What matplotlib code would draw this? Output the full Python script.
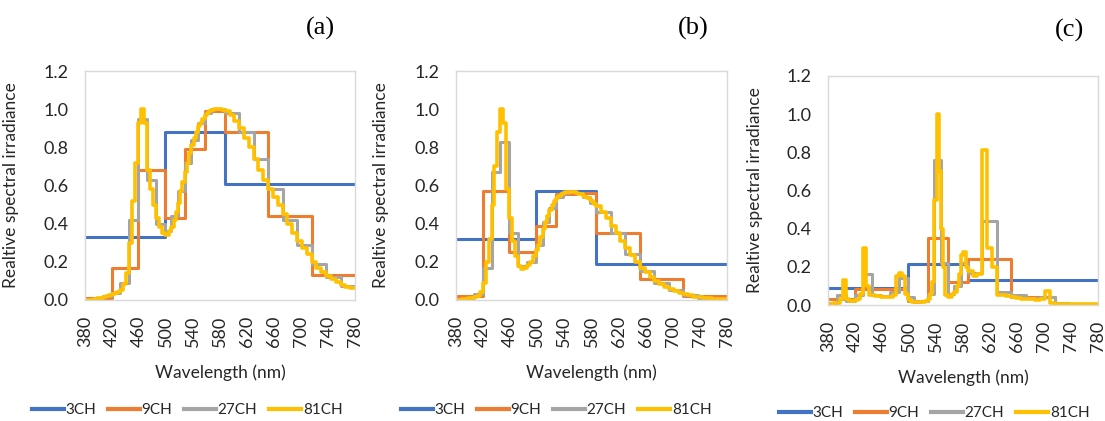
import numpy as np
import matplotlib
matplotlib.use("Agg")
import matplotlib.pyplot as plt

plt.rcParams['font.family'] = ['Lato', 'DejaVu Sans']

# channel bin edges (nm): 3 main channels, each split into 3 again and again
ch3_edges = [380, 498, 587, 780]

labels = ["3CH", "9CH", "27CH", "81CH"]
colors = ["#4472C4", "#ED7D31", "#A5A5A5", "#FFC000"]
panel_tags = ["(a)", "(b)", "(c)"]

# ---- panel (a)
a_3ch = [0.33, 0.88, 0.61]
a_9ch = [0.01, 0.17, 0.68, 0.43, 0.79, 0.99, 0.88, 0.44, 0.13]
a_27ch = [0.0, 0.01, 0.02, 0.035, 0.09, 0.42, 0.95, 0.63, 0.40,
          0.36, 0.44, 0.57, 0.72, 0.84, 0.93, 0.98, 1.0, 1.0,
          0.98, 0.88, 0.74, 0.58, 0.42, 0.29, 0.19, 0.12, 0.075]
a_81ch = [0.0, 0.0, 0.0, 0.005, 0.008, 0.012, 0.018, 0.022, 0.026,
          0.03, 0.035, 0.04, 0.05, 0.085, 0.14, 0.30, 0.52, 0.72,
          0.93, 1.0, 0.93, 0.68, 0.58, 0.50, 0.43, 0.38, 0.35,
          0.34, 0.34, 0.36, 0.38, 0.42, 0.46, 0.51, 0.57, 0.62,
          0.67, 0.72, 0.77, 0.81, 0.85, 0.88, 0.91, 0.93, 0.95,
          0.97, 0.98, 0.99, 0.995, 1.0, 1.0, 1.0, 1.0, 0.995,
          0.99, 0.97, 0.94, 0.90, 0.85, 0.80, 0.74, 0.68, 0.63,
          0.58, 0.54, 0.50, 0.45, 0.40, 0.35, 0.31, 0.27, 0.24,
          0.20, 0.17, 0.145, 0.125, 0.11, 0.095, 0.08, 0.07, 0.065]

# ---- panel (b)
b_3ch = [0.32, 0.57, 0.19]
b_9ch = [0.02, 0.57, 0.25, 0.39, 0.555, 0.56, 0.35, 0.11, 0.02]
b_27ch = [0.005, 0.01, 0.03, 0.17, 0.67, 0.83, 0.35, 0.18, 0.20,
          0.29, 0.41, 0.48, 0.54, 0.56, 0.57, 0.56, 0.54, 0.51,
          0.46, 0.35, 0.24, 0.15, 0.09, 0.055, 0.025, 0.012, 0.006]
b_81ch = [0.0, 0.002, 0.004, 0.006, 0.008, 0.01, 0.015, 0.022, 0.04,
          0.09, 0.20, 0.32, 0.50, 0.70, 0.88, 1.0, 0.93, 0.58,
          0.43, 0.31, 0.23, 0.18, 0.165, 0.17, 0.185, 0.20, 0.23,
          0.26, 0.29, 0.33, 0.37, 0.41, 0.44, 0.47, 0.50, 0.52,
          0.535, 0.545, 0.555, 0.56, 0.565, 0.567, 0.568, 0.567, 0.565,
          0.562, 0.558, 0.553, 0.547, 0.54, 0.532, 0.523, 0.513, 0.502,
          0.49, 0.46, 0.43, 0.39, 0.35, 0.31, 0.27, 0.235, 0.20,
          0.17, 0.145, 0.12, 0.10, 0.085, 0.07, 0.058, 0.047, 0.038,
          0.03, 0.024, 0.018, 0.014, 0.01, 0.008, 0.006, 0.005, 0.004]

# ---- panel (c)
c_3ch = [0.087, 0.215, 0.13]
c_9ch = [0.03, 0.085, 0.085, 0.023, 0.35, 0.122, 0.24, 0.04, 0.005]
c_27ch = [0.01, 0.055, 0.02, 0.05, 0.16, 0.05, 0.045, 0.07, 0.14,
          0.04, 0.015, 0.02, 0.06, 0.76, 0.22, 0.06, 0.10, 0.22,
          0.17, 0.44, 0.07, 0.05, 0.035, 0.04, 0.01, 0.005, 0.005]
c_81ch = [0.005, 0.005, 0.008, 0.01, 0.03, 0.13, 0.03, 0.02, 0.022,
          0.025, 0.03, 0.06, 0.30, 0.10, 0.05, 0.05, 0.048, 0.046,
          0.044, 0.042, 0.04, 0.04, 0.05, 0.15, 0.17, 0.15, 0.06,
          0.03, 0.02, 0.018, 0.015, 0.014, 0.014, 0.015, 0.016, 0.02,
          0.03, 0.06, 0.12, 0.55, 1.0, 0.70, 0.40, 0.20, 0.05,
          0.04, 0.04, 0.06, 0.07, 0.10, 0.16, 0.26, 0.28, 0.20,
          0.18, 0.15, 0.16, 0.81, 0.30, 0.20, 0.05, 0.05, 0.045,
          0.042, 0.038, 0.033, 0.03, 0.03, 0.028, 0.03, 0.075, 0.01,
          0.006, 0.005, 0.005, 0.005, 0.005, 0.005, 0.005, 0.005, 0.005]

panels = [
    [a_3ch, a_9ch, a_27ch, a_81ch],
    [b_3ch, b_9ch, b_27ch, b_81ch],
    [c_3ch, c_9ch, c_27ch, c_81ch],
]


def split_edges(edges):
    out = []
    for lo, hi in zip(edges[:-1], edges[1:]):
        out.extend(np.linspace(lo, hi, 4)[:-1])
    out.append(edges[-1])
    return np.array(out)


edges_list = [np.array(ch3_edges, dtype=float)]
for _ in range(3):
    edges_list.append(split_edges(edges_list[-1]))

fig = plt.figure(figsize=(11.05, 4.21), dpi=100)
W, H = 1105, 421
# plot area boxes in pixels (left, top, right, bottom)
boxes = [(85, 71, 355, 300), (456, 71, 727, 300), (828, 76, 1098, 305)]
ylabel_x = [19, 389, 763]
tag_pos = [(320, 28), (693, 28), (1070, 30)]
legend_pos = [(187, 410), (556, 410), (934, 413)]
txt_col = '#262626'

for i, (series, box) in enumerate(zip(panels, boxes)):
    l, t, r, b = box
    ax = fig.add_axes([l / W, 1 - b / H, (r - l) / W, (b - t) / H])
    handles = []
    for vals, edges, col, lab in zip(series, edges_list, colors, labels):
        lw = 2.6 if lab == "81CH" else 2.2
        y = np.append(vals, vals[-1])
        h, = ax.step(edges, y, where='post', color=col, lw=lw, label=lab)
        handles.append(h)
    ax.set_xlim(380, 780)
    ax.set_ylim(0, 1.2)
    ax.set_xticks(np.arange(380, 781, 40))
    ax.set_yticks(np.arange(0, 1.21, 0.2))
    ax.set_yticklabels([f"{v:.1f}" for v in np.arange(0, 1.21, 0.2)])
    ax.tick_params(axis='both', length=0, labelsize=13, colors=txt_col)
    ax.tick_params(axis='y', pad=12)
    ax.tick_params(axis='x', labelrotation=90, pad=11)
    for sp in ax.spines.values():
        sp.set_color('#D9D9D9')
        sp.set_linewidth(1.0)
    ax.set_ylabel("Realtive spectral irradiance", fontsize=12.5, color=txt_col)
    ax.set_xlabel("Wavelength (nm)", fontsize=12.5, color=txt_col)
    ax.yaxis.set_label_coords((ylabel_x[i] - l) / (r - l), 0.5)
    ax.xaxis.set_label_coords(0.5, -0.28)

    tx, ty = tag_pos[i]
    fig.text(tx / W, 1 - ty / H, panel_tags[i], fontsize=19, family='Liberation Serif',
             ha='center', va='center')

    lx, ly = legend_pos[i]
    leg = fig.legend(handles, labels, loc='center', bbox_to_anchor=(lx / W, 1 - ly / H),
                     ncol=4, frameon=False, fontsize=11, handlelength=2.1,
                     handletextpad=0.12, columnspacing=0.75, borderpad=0.1)
    for lh in leg.get_lines():
        lh.set_linewidth(3.0)
    for txt in leg.get_texts():
        txt.set_color(txt_col)

fig.savefig("out.png", dpi=100)
